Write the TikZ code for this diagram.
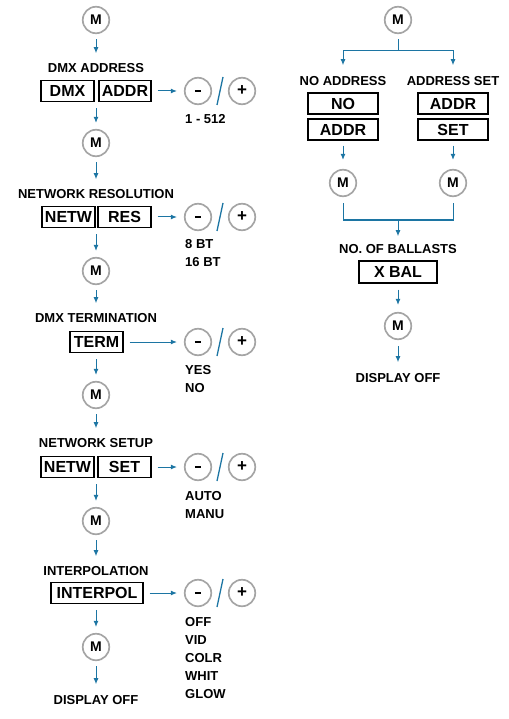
\documentclass[tikz,border=0pt]{standalone}
\usepackage{fontspec}
\setmainfont{Liberation Sans}
\usepackage{xcolor}
\usetikzlibrary{calc, arrows.meta}

\definecolor{flowblue}{RGB}{28,117,163}
\definecolor{keygray}{RGB}{165,165,165}

\tikzset{
  mkey/.style={circle, draw=keygray, line width=1.7pt, minimum size=26.5pt, inner sep=0pt, font=\bfseries\fontsize{14}{16}\selectfont},
  pmkey/.style={mkey, font=\bfseries\fontsize{17}{18}\selectfont},
  disp/.style={draw, line width=1.2pt, minimum height=21pt, minimum width=53pt, inner sep=0pt, font=\bfseries\fontsize{16}{18}\selectfont},
  head/.style={inner sep=0pt, font=\bfseries\fontsize{13}{15}\selectfont},
  val/.style={head, anchor=west},
  wire/.style={draw=flowblue, line width=1pt},
  flow/.style={wire, -{Latex[length=6pt,width=5pt]}},
}

\begin{document}
\begin{tikzpicture}[x=1pt, y=-1pt]
    \useasboundingbox (0,0) rectangle (508,719);

    % left column
    \node[mkey] (m1) at (96,20) {M};
    \node[head] (h1) at (96,68) {DMX ADDRESS};
    \node[disp] (d1a) at (67.5,91) {DMX};
    \node[disp, minimum width=52pt] (d1b) at (125,91) {ADDR};
    \node[mkey] (m2) at (96,143) {M};
    \node[head] (h2) at (96,194) {NETWORK RESOLUTION};
    \node[disp] (d2a) at (68.5,217) {NETW};
    \node[disp] (d2b) at (124.5,217) {RES};
    \node[mkey] (m3) at (96,271) {M};
    \node[head] (h3) at (96,318) {DMX TERMINATION};
    \node[disp] (d3b) at (96.5,342) {TERM};
    \node[mkey] (m4) at (96,395) {M};
    \node[head] (h4) at (96,443) {NETWORK SETUP};
    \node[disp] (d4a) at (67.5,467) {NETW};
    \node[disp] (d4b) at (124.5,467) {SET};
    \node[mkey] (m5) at (96,521) {M};
    \node[head] (h5) at (96,571) {INTERPOLATION};
    \node[disp, minimum width=92pt] (d5b) at (97,593) {INTERPOL};
    \node[mkey] (m6) at (96,647) {M};
    \node[head] (off1) at (96,700) {DISPLAY OFF};

    \foreach \y [count=\i] in {91,217,342,467,593} {
        \node[pmkey] (minus\i) at (198,\y) {\rule[-1.4pt]{6.5pt}{2.8pt}};
        \node[pmkey] (plus\i) at (242,\y) {+};
        \draw[wire, line width=1.3pt] ($(minus\i)!0.5!(plus\i)$) ++(-3,14) -- ++(6,-28);
        \draw[flow, shorten <=6pt, shorten >=7pt] (d\i b) -- (minus\i);
    }

    \node[val] (v1) at (185,119) {1 - 512};
    \foreach \v [count=\i] in {8 BT,16 BT}
        \node[val] (v2-\i) at (185,{244+18*(\i-1)}) {\v};
    \foreach \v [count=\i] in {YES,NO}
        \node[val] (v3-\i) at (185,{370+18*(\i-1)}) {\v};
    \foreach \v [count=\i] in {AUTO,MANU}
        \node[val] (v4-\i) at (185,{496+18*(\i-1)}) {\v};
    \foreach \v [count=\i] in {OFF,VID,COLR,WHIT,GLOW}
        \node[val] (v5-\i) at (185,{622+18*(\i-1)}) {\v};

    \draw[flow, shorten <=5pt, shorten >=10pt] (m1) -- (h1);
    \draw[flow, shorten <=6pt, shorten >=6pt] (m2 |- d1a.south) -- (m2);
    \draw[flow, shorten <=5pt, shorten >=10pt] (m2) -- (h2);
    \draw[flow, shorten <=6pt, shorten >=6pt] (m3 |- d2a.south) -- (m3);
    \draw[flow, shorten <=5pt, shorten >=10pt] (m3) -- (h3);
    \draw[flow, shorten <=6pt, shorten >=6pt] (m4 |- d3b.south) -- (m4);
    \draw[flow, shorten <=5pt, shorten >=10pt] (m4) -- (h4);
    \draw[flow, shorten <=6pt, shorten >=6pt] (m5 |- d4a.south) -- (m5);
    \draw[flow, shorten <=5pt, shorten >=10pt] (m5) -- (h5);
    \draw[flow, shorten <=6pt, shorten >=6pt] (m6 |- d5b.south) -- (m6);
    \draw[flow, shorten <=5pt, shorten >=11pt] (m6) -- (off1);

    % right column
    \node[mkey] (mr1) at (398,20) {M};
    \coordinate (split) at (398,51);
    \node[head] (nah) at (343,81) {NO ADDRESS};
    \node[head] (ash) at (453,81) {ADDRESS SET};
    \node[disp, minimum width=70pt] (naa) at (343,103.5) {NO};
    \node[disp, minimum width=70pt] (nab) at (343,129.5) {ADDR};
    \node[disp, minimum width=70pt] (asa) at (453,103.5) {ADDR};
    \node[disp, minimum width=70pt] (asb) at (453,129.5) {SET};
    \node[mkey] (ml2) at (343,183) {M};
    \node[mkey] (mr2) at (453,183) {M};
    \coordinate (join) at (398,220);
    \node[head] (balh) at (398,249) {NO. OF BALLASTS};
    \node[disp, minimum width=78pt, minimum height=22pt] (bal) at (398,272) {X BAL};
    \node[mkey] (mr3) at (398,326) {M};
    \node[head] (off2) at (398,378) {DISPLAY OFF};

    \draw[wire, shorten <=5pt] (mr1) -- (split);
    \draw[flow, shorten >=11pt] (split) -| (nah);
    \draw[flow, shorten >=11pt] (split) -| (ash);
    \draw[flow, shorten <=5pt, shorten >=9pt] (nab) -- (ml2);
    \draw[flow, shorten <=5pt, shorten >=9pt] (asb) -- (mr2);
    \draw[wire, shorten <=6pt] (ml2) |- (join);
    \draw[wire, shorten <=6pt] (mr2) |- (join);
    \draw[flow, shorten >=8pt] (join) -- (balh);
    \draw[flow, shorten <=6pt, shorten >=7pt] (bal) -- (mr3);
    \draw[flow, shorten <=6pt, shorten >=11pt] (mr3) -- (off2);
\end{tikzpicture}
\end{document}
